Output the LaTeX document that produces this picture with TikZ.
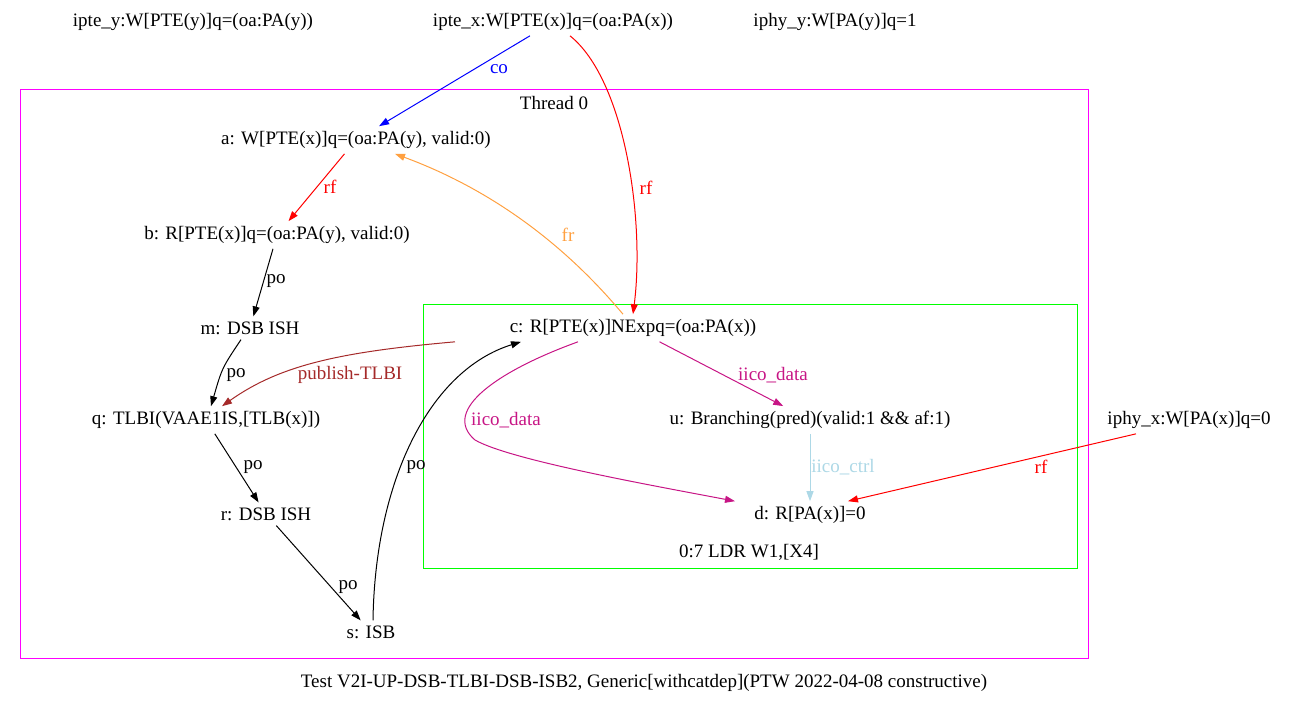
\documentclass[tikz,border=0pt]{standalone}
\usepackage{fontspec}
\setmainfont{Liberation Serif}
\usetikzlibrary{arrows.meta}
\definecolor{gvmag}{RGB}{255,0,255}
\definecolor{gvgreen}{RGB}{0,255,0}
\definecolor{gvblue}{RGB}{0,0,255}
\definecolor{gvred}{RGB}{255,0,0}
\definecolor{gvorange}{RGB}{255,160,64}
\definecolor{gvbrown}{RGB}{165,42,42}
\definecolor{gvviolet}{RGB}{199,21,133}
\definecolor{gvlblue}{RGB}{173,216,230}
\begin{document}
\begin{tikzpicture}[x=1pt,y=-1pt,
  every node/.style={font=\fontsize{19}{22}\selectfont, inner sep=4pt},
  ev/.style={inner sep=5pt},
  lbl/.style={inner sep=1pt},
  gedge/.style={-{Triangle[length=10pt,width=7pt]}, line width=1pt},
  cluster/.style={line width=1pt}]
\useasboundingbox (0,0) rectangle (1290,707);
% clusters
\draw[cluster, gvmag] (20,89) rectangle (1088,658);
\node (th0) at (554,103) {Thread 0};
\draw[cluster, gvgreen] (423,304) rectangle (1077,568);
\node (ldr) at (749,552) {0:7 LDR W1,[X4]};
% events
\node[ev] (ipy) at (193,22) {ipte\_y:W[PTE(y)]q=(oa:PA(y))};
\node[ev] (ipx) at (553,22) {ipte\_x:W[PTE(x)]q=(oa:PA(x))};
\node[ev] (phy) at (835,22) {iphy\_y:W[PA(y)]q=1};
\node[ev] (a) at (356,140) {a: W[PTE(x)]q=(oa:PA(y), valid:0)};
\node[ev] (b) at (277,235) {b: R[PTE(x)]q=(oa:PA(y), valid:0)};
\node[ev] (m) at (250,328) {m: DSB ISH};
\node[ev] (q) at (206,420) {q: TLBI(VAAE1IS,[TLB(x)])};
\node[ev] (r) at (266,514) {r: DSB ISH};
\node[ev] (s) at (371,632) {s: ISB};
\node[ev] (c) at (633,328) {c: R[PTE(x)]NExpq=(oa:PA(x))};
\node[ev] (u) at (810,420) {u: Branching(pred)(valid:1 \&\& af:1)};
\node[ev] (d) at (810,515) {d: R[PA(x)]=0};
\node[ev] (phx) at (1189,420) {iphy\_x:W[PA(x)]q=0};
\node (cap) at (644,683) {Test V2I-UP-DSB-TLBI-DSB-ISB2, Generic[withcatdep](PTW 2022-04-08 constructive)};
% edges
\draw[gedge, gvblue] (ipx) -- (a);
\node[lbl, gvblue] (lco) at (499,69) {co};
\draw[gedge, gvred] ([xshift=17pt]ipx.south) .. controls (625,80) and (645,220) .. (c.north);
\node[lbl, gvred] (lrf2) at (646,188) {rf};
\draw[gedge, gvred] (a) -- (b);
\node[lbl, gvred] (lrf1) at (330,187) {rf};
\draw[gedge, gvorange] ([xshift=-10pt]c.north) .. controls (590,275) and (520,200) .. ([xshift=39pt]a.south);
\node[lbl, gvorange] (lfr) at (568,235) {fr};
\draw[gedge] (b) -- (m);
\node[lbl] (lpo1) at (276,281) {po};
\draw[gedge] ([xshift=-9pt]m.south) .. controls (222,368) .. ([xshift=5pt]q.north);
\node[lbl] (lpo2) at (236,375) {po};
\draw[gedge, gvbrown] ([xshift=-178pt]c.south) .. controls (340,352) and (280,365) .. ([xshift=16pt]q.north);
\node[lbl, gvbrown] (lpub) at (350,375) {publish-TLBI};
\draw[gedge] (q) -- (r);
\node[lbl] (lpo3) at (253,467) {po};
\draw[gedge] (r) -- (s);
\node[lbl] (lpo4) at (348,587) {po};
\draw[gedge] ([xshift=2pt]s.north) .. controls (375,480) and (430,370) .. ([xshift=-112pt]c.south);
\node[lbl] (lpo5) at (416,467) {po};
\draw[gedge, gvviolet] (c) -- (u);
\node[lbl, gvviolet] (lid1) at (773,375) {iico\_data};
\draw[gedge, gvviolet] ([xshift=-55pt]c.south) .. controls (500,370) and (440,410) .. (475,440) .. controls (510,460) and (650,485) .. ([xshift=-75pt]d.north);
\node[lbl, gvviolet] (lid2) at (506,420) {iico\_data};
\draw[gedge, gvlblue] (u) -- (d);
\node[lbl, gvlblue] (lic) at (843,467) {iico\_ctrl};
\draw[gedge, gvred] ([xshift=-53pt]phx.south) -- ([xshift=38pt]d.north);
\node[lbl, gvred] (lrf3) at (1041,467) {rf};
\end{tikzpicture}
\end{document}
